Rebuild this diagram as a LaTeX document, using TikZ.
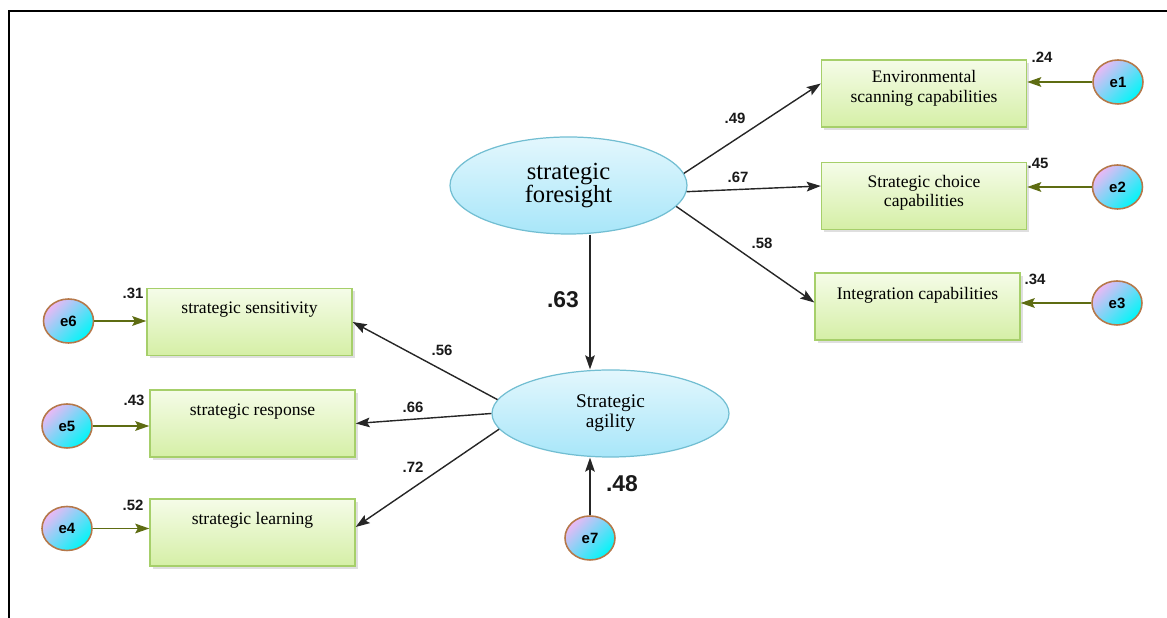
\documentclass[tikz,border=0pt]{standalone}
\usepackage{fontspec}
\setmainfont{Liberation Serif}
\setsansfont{Liberation Sans}
\usepackage{tikz}
\usetikzlibrary{shapes.geometric}
\usetikzlibrary{arrows.meta}
\usetikzlibrary{shadows}
\usetikzlibrary{positioning}

\definecolor{boxline}{HTML}{A6CF6A}
\definecolor{boxtop}{HTML}{F5FCE8}
\definecolor{boxbot}{HTML}{D5EFA6}
\definecolor{ellline}{HTML}{72BED2}
\definecolor{elltop}{HTML}{E3F7FD}
\definecolor{ellbot}{HTML}{A8E6F9}
\definecolor{errline}{HTML}{B5784A}
\definecolor{errtop}{HTML}{EBB8F5}
\definecolor{errbot}{HTML}{00F6F8}
\definecolor{errarr}{HTML}{5E6C12}

\tikzset{
  obsbox/.style={draw=boxline, line width=0.8pt, top color=boxtop, bottom color=boxbot,
    minimum width=4.1cm, minimum height=1.34cm, inner sep=0pt,
    drop shadow={shadow xshift=1.5pt, shadow yshift=-1.5pt, opacity=0.25}},
  boxtext/.style={font=\fontsize{10}{11}\selectfont, align=center, inner sep=0pt},
  latent/.style={ellipse, draw=ellline, line width=0.7pt, top color=elltop, bottom color=ellbot,
    inner sep=0pt, align=center, minimum width=4.74cm},
  errnode/.style={ellipse, draw=errline, line width=0.9pt, top color=errtop, bottom color=errbot,
    shading angle=45, minimum width=1cm, minimum height=0.88cm, inner sep=0pt,
    font=\sffamily\bfseries\fontsize{8.5}{9}\selectfont},
  coef/.style={font=\sffamily\bfseries\fontsize{8.5}{9}\selectfont, inner sep=0pt, text=black!90},
  bigcoef/.style={font=\sffamily\bfseries\fontsize{13}{14}\selectfont, inner sep=0pt, text=black!90},
  loadarrow/.style={draw=black!85, line width=0.8pt, -{Stealth[length=8pt,width=5.5pt,inset=1.5pt]}},
  errarrow/.style={draw=errarr, line width=1pt, -{Stealth[length=8pt,width=5.5pt,inset=1.5pt]}}
}

\begin{document}
\begin{tikzpicture}
\useasboundingbox (0,0) rectangle (23.34,12.36);
\draw[line width=1.6pt, line join=miter] (0.18,0) -- (0.18,12.14) -- (23.34,12.14);

% observed variables
\node[obsbox] (env) at (18.48,10.49) {};
\node[obsbox] (choice) at (18.48,8.44) {};
\node[obsbox] (integ) at (18.35,6.23) {};
\node[obsbox] (sens) at (4.99,5.92) {};
\node[obsbox] (resp) at (5.05,3.89) {};
\node[obsbox] (learn) at (5.05,1.71) {};
\node[boxtext, below=0.22cm of env.north] (envtext) {Environmental\\scanning capabilities};
\node[boxtext, below=0.26cm of choice.north] (choicetext) {Strategic choice\\capabilities};
\node[boxtext, below=0.3cm of integ.north] (integtext) {Integration capabilities};
\node[boxtext, below=0.28cm of sens.north] (senstext) {strategic sensitivity};
\node[boxtext, below=0.28cm of resp.north] (resptext) {strategic response};
\node[boxtext, below=0.28cm of learn.north] (learntext) {strategic learning};

% latent variables
\node[latent, minimum height=1.94cm, font=\fontsize{14}{13}\selectfont] (fore) at (11.37,8.65) {strategic\\foresight};
\node[latent, minimum height=1.74cm, font=\fontsize{11}{11.3}\selectfont] (agil) at (12.21,4.09) {Strategic\\agility};

% errors
\node[errnode] (e1) at (22.36,10.72) {e1};
\node[errnode] (e2) at (22.35,8.62) {e2};
\node[errnode] (e3) at (22.34,6.30) {e3};
\node[errnode] (e6) at (1.37,5.94) {e6};
\node[errnode] (e5) at (1.34,3.84) {e5};
\node[errnode] (e4) at (1.34,1.79) {e4};
\node[errnode] (e7) at (11.8,1.60) {e7};

% paths
\draw[loadarrow] (fore.6) -- ([yshift=0.2cm]env.west);
\draw[loadarrow] (fore.-3) -- ([yshift=0.2cm]choice.west);
\draw[loadarrow] (fore.-11) -- ([yshift=0.08cm]integ.west);
\draw[loadarrow] (e7 |- fore.south) -- (e7 |- agil.north);
\draw[loadarrow] (agil.173) -- (sens.east);
\draw[loadarrow] (agil.west) -- (resp.east);
\draw[loadarrow] (agil.188) -- ([yshift=0.11cm]learn.east);
\draw[loadarrow] (e7) -- (e7 |- agil.south);
\draw[errarrow] (e1) -- (e1 -| env.east);
\draw[errarrow] (e2) -- (e2 -| choice.east);
\draw[errarrow] (e3) -- (e3 -| integ.east);
\draw[errarrow] (e6) -- (e6 -| sens.west);
\draw[errarrow] (e5) -- (e5 -| resp.west);
\draw[errarrow] (e4) -- (e4 -| learn.west);

% estimates
\node[coef] (r1) at (20.84,11.22) {.24};
\node[coef] (r2) at (20.76,9.10) {.45};
\node[coef] (r3) at (20.70,6.78) {.34};
\node[coef] (r6) at (2.66,6.50) {.31};
\node[coef] (r5) at (2.68,4.36) {.43};
\node[coef] (r4) at (2.66,2.26) {.52};
\node[coef] (w1) at (14.70,10.00) {.49};
\node[coef] (w2) at (14.76,8.82) {.67};
\node[coef] (w3) at (15.24,7.50) {.58};
\node[coef] (w6) at (8.84,5.36) {.56};
\node[coef] (w5) at (8.26,4.22) {.66};
\node[coef] (w4) at (8.26,3.02) {.72};
\node[bigcoef] (wfa) at (11.26,6.36) {.63};
\node[bigcoef] (ra) at (12.44,2.68) {.48};

\end{tikzpicture}
\end{document}
